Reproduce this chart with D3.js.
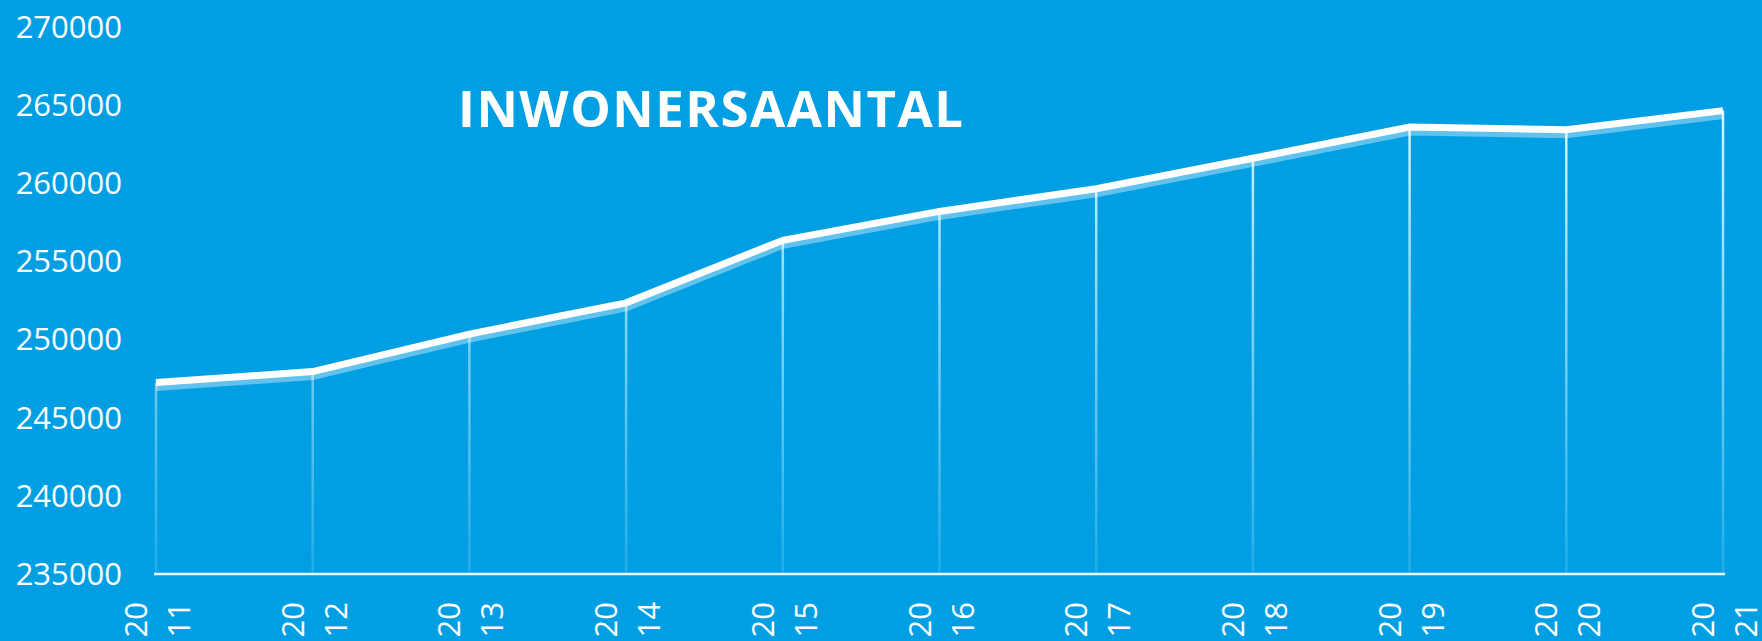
<!DOCTYPE html>
<html>
<head>
<meta charset="utf-8">
<script src="https://cdn.jsdelivr.net/npm/d3@7"></script>
<style>
  html, body { margin: 0; padding: 0; background: #009fe3; }
  svg { display: block; }
</style>
</head>
<body>
<svg id="chart"></svg>
<script>
// Daten
const years = ["2011", "2012", "2013", "2014", "2015", "2016", "2017", "2018", "2019", "2020", "2021"];
const inwoners = [247250, 247950, 250350, 252350, 256350, 258200, 259650, 261600, 263600, 263430, 264650];
const yTicks = [235000, 240000, 245000, 250000, 255000, 260000, 265000, 270000];
const title = "INWONERSAANTAL";

// SVG Konfiguration
const width = 1762;
const height = 641;
const svg = d3.select("#chart")
    .attr("width", width)
    .attr("height", height);

svg.append("rect")
    .attr("width", width)
    .attr("height", height)
    .attr("fill", "#009fe3");

// Skalen
const x = d3.scalePoint()
    .domain(years)
    .range([156, 1723]);

const y = d3.scaleLinear()
    .domain([235000, 270000])
    .range([574, 27]);

// Verlauf für die Falllinien
const defs = svg.append("defs");
const grad = defs.append("linearGradient")
    .attr("id", "dropFade")
    .attr("gradientUnits", "userSpaceOnUse")
    .attr("x1", 0).attr("y1", y(265000))
    .attr("x2", 0).attr("y2", y(235000));
grad.append("stop").attr("offset", "0%").attr("stop-color", "#d6f6ff").attr("stop-opacity", 1);
grad.append("stop").attr("offset", "100%").attr("stop-color", "#d6f6ff").attr("stop-opacity", 0.15);

// Y-Achse (nur Beschriftung)
svg.append("g")
    .selectAll("text")
    .data(yTicks)
    .join("text")
    .attr("x", 122)
    .attr("y", d => y(d))
    .attr("dy", "0.35em")
    .attr("text-anchor", "end")
    .attr("fill", "#fff")
    .attr("font-family", "'Open Sans', sans-serif")
    .attr("font-size", "31px")
    .text(d => d);

// X-Achse Linie
svg.append("line")
    .attr("x1", x(years[0]) - 2)
    .attr("x2", x(years[years.length - 1]) + 2)
    .attr("y1", y(235000))
    .attr("y2", y(235000))
    .attr("stroke", "#e6f7ff")
    .attr("stroke-width", 2.5);

// X-Achse Beschriftung (gedreht, zweizeilig)
const xLabels = svg.append("g")
    .selectAll("text")
    .data(years)
    .join("text")
    .attr("transform", d => `translate(${x(d)},602) rotate(-90)`)
    .attr("text-anchor", "end")
    .attr("fill", "#fff")
    .attr("font-family", "'Open Sans', sans-serif")
    .attr("font-size", "31px");
xLabels.append("tspan").attr("x", 0).attr("y", -9).text(d => d.slice(0, 2));
xLabels.append("tspan").attr("x", 0).attr("y", 34).text(d => d.slice(2));

// Falllinien
svg.append("g")
    .selectAll("line")
    .data(years)
    .join("line")
    .attr("x1", d => x(d))
    .attr("x2", d => x(d))
    .attr("y1", (d, i) => y(inwoners[i]))
    .attr("y2", y(235000))
    .attr("stroke", "url(#dropFade)")
    .attr("stroke-width", 2.5);

const line = d3.line()
    .x((d, i) => x(years[i]))
    .y(d => y(d));

// Schatten der Linie
svg.append("path")
    .datum(inwoners)
    .attr("d", line)
    .attr("transform", "translate(0,5)")
    .attr("fill", "none")
    .attr("stroke", "#ffffff")
    .attr("stroke-opacity", 0.38)
    .attr("stroke-width", 7);

// Hauptlinie
svg.append("path")
    .datum(inwoners)
    .attr("d", line)
    .attr("fill", "none")
    .attr("stroke", "#ffffff")
    .attr("stroke-width", 7);

// Titel
svg.append("text")
    .attr("x", 458)
    .attr("y", 127)
    .attr("fill", "#fff")
    .attr("font-family", "'Open Sans', sans-serif")
    .attr("font-weight", "bold")
    .attr("font-size", "51px")
    .attr("textLength", 505)
    .attr("lengthAdjust", "spacing")
    .text(title);
</script>
</body>
</html>
